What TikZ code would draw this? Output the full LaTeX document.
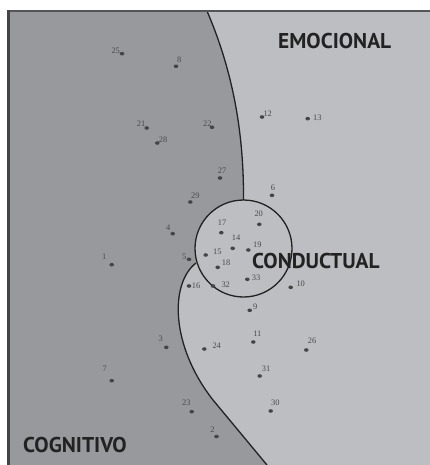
\documentclass[tikz,border=0pt]{standalone}
\usepackage{fontspec}
\usetikzlibrary{shapes.geometric}
\newfontfamily\labfont{PT Sans}
\newfontfamily\numfont{Liberation Serif}
\definecolor{darkreg}{HTML}{98999D}
\definecolor{lightreg}{HTML}{BDBEC2}
\definecolor{edgecol}{HTML}{222222}
\definecolor{dotcol}{HTML}{444444}
\definecolor{numcol}{HTML}{4A4A4A}
\definecolor{framecol}{HTML}{555555}
\begin{document}
\begin{tikzpicture}[x=1pt,y=-1pt,
  dot/.style={fill=dotcol,ellipse,inner sep=0pt,minimum width=4.6pt,minimum height=3.6pt},
  num/.style={font=\numfont\fontsize{8.4}{8.4}\selectfont,text=numcol,inner sep=0pt},
  region/.style={font=\labfont\bfseries\fontsize{21.4}{21.4}\selectfont,text=edgecol,inner sep=0pt,text depth=0pt,anchor=base west},
  border/.style={draw=edgecol,line width=1.3pt}]
\useasboundingbox (0,0) rectangle (430,465);
% background
\fill[lightreg] (8,11) rectangle (430,465);
% dark region (cognitivo)
\fill[darkreg] (8,11) -- (207,11) .. controls (228,60) and (244,120) .. (243.5,200)
  -- (196,263) .. controls (170,283) and (170,345) .. (213,400) -- (267,465) -- (8,465) -- cycle;
% circle (conductual)
\fill[lightreg] (243.5,248.5) circle[radius=48.5];
% outlines
\coordinate (ctop) at (207,11);
\coordinate (cjoin) at (243.5,200);
\coordinate (ljoin) at (196,263);
\coordinate (lmid) at (213,400);
\coordinate (lend) at (267,465);
\node[circle,draw=edgecol,line width=1.3pt,minimum size=97pt,inner sep=0pt] (circ) at (243.5,248.5) {};
\draw[border] (ctop) .. controls (228,60) and (244,120) .. (cjoin);
\draw[border] (ljoin) .. controls (170,283) and (170,345) .. (lmid) -- (lend);
% frame
\draw[framecol,line width=2pt] (8,11) -- (430,11);
\draw[dotcol,line width=3pt] (8,10) -- (8,465);
% region labels
\node[region] (emo) at (278,48.5) {EMOCIONAL};
\node[region] (con) at (252,268) {CONDUCTUAL};
\node[region] (cog) at (23,452) {COGNITIVO};
% dots and numbers
\foreach \n/\dx/\dy/\lx/\ly in {
  25/122/53.7/115.7/50.7,
  8/176/66.3/179.3/59.3,
  21/146.7/128/141/124,
  28/157.3/143/163/139.3,
  22/212/127.3/207.3/124,
  12/262/117/267.7/114,
  13/307.7/118.7/317.3/117.3,
  6/272/195.3/273/187.3,
  27/220/178/222/171,
  29/190.3/202/195.3/195.3,
  4/172.7/233.7/168.3/227.3,
  1/111.7/264.7/104.3/257,
  5/189/259.3/184.3/256.7,
  16/189/286/196/286,
  20/259.3/224.3/258.7/214,
  17/221.3/232.7/222/222.7,
  14/232.7/248.3/236/237.3,
  19/248.3/250/257.3/244.7,
  15/205.7/255/217.3/252,
  18/217.7/267.3/226/263,
  33/247.3/279.3/256/277.8,
  32/213/286/225.7/284.3,
  10/290.7/287.3/300.7/284,
  9/249.7/310.3/255.3/306.7,
  3/166.3/347.3/160.7/338.7,
  24/204.3/349/216.7/346,
  7/111.7/380.7/104.7/368.7,
  23/191.7/411.7/186.3/402.7,
  2/216.5/436.5/212.5/429.6,
  11/253.3/342/257.3/333.7,
  26/306.3/350/312/340.3,
  31/259.7/376/266/368.3,
  30/270.7/411/275.3/402.7}
{
  \node[dot] (d\n) at (\dx,\dy) {};
  \node[num] (l\n) at (\lx,\ly) {\n};
}
\end{tikzpicture}
\end{document}
